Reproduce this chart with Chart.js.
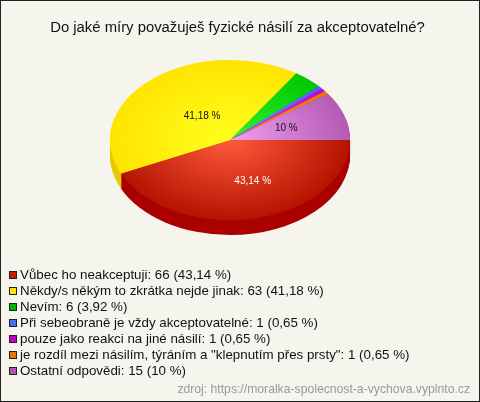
<!DOCTYPE html>
<html>
<head>
<meta charset="utf-8">
<script src="https://cdn.jsdelivr.net/npm/chart.js@4"></script>
<style>
	html, body { margin: 0; padding: 0; }
	#frame { position: relative; width: 480px; height: 402px; box-sizing: border-box; border: 1px solid #222; background: #f5f5ee; overflow: hidden; font-family: "Liberation Sans", Arial, sans-serif; }
	#myChart { position: absolute; left: -1px; top: -1px; }
	#legend { position: absolute; left: 8px; top: 266px; font-size: 13.33px; line-height: 16px; color: #111; white-space: nowrap; }
	#legend i { display: inline-block; border: 1px solid #222; margin-right: 3px; vertical-align: 0; width: 6px; height: 6px; }
	#source { position: absolute; right: 9px; top: 381px; font-size: 12.2px; color: #999; }
</style>
</head>
<body>
<div id="frame">
	<canvas id="myChart" width="480" height="402"></canvas>
	<div id="legend"></div>
	<div id="source">zdroj: https://moralka-spolecnost-a-vychova.vyplnto.cz</div>
</div>
<script>
// Chart data
var chartTitle = "Do jaké míry považuješ fyzické násilí za akceptovatelné?";
var categories = ["Vůbec ho neakceptuji", "Někdy/s někým to zkrátka nejde jinak", "Nevím", "Při sebeobraně je vždy akceptovatelné", "pouze jako reakci na jiné násilí", "je rozdíl mezi násilím, týráním a \"klepnutím přes prsty\"", "Ostatní odpovědi"];
var counts = [66, 63, 6, 1, 1, 1, 15];
var percents = ["43,14", "41,18", "3,92", "0,65", "0,65", "0,65", "10"];

// Colours of each slice
var innerColors = ["#ff5a3c", "#ffff1e", "#32f032", "#7896ff", "#f03cf0", "#ff9628", "#f0a0f0"];
var outerColors = ["#b41400", "#ffe400", "#00c800", "#4664f0", "#c800c8", "#e67800", "#b45ab4"];
var sideColors = ["#aa0000", "#e6c800", "#009600", "#3246b4", "#960096", "#b45a00", "#8c468c"];
var legendColors = ["#c81e00", "#ffe600", "#00b400", "#4a6cf0", "#c000c8", "#e67800", "#b455b0"];

// Which slices carry a label inside the pie, with how far out it sits
var labelRadius = [64, 46, 0, 0, 0, 0, 56];
var labelShiftX = [9, 2, 0, 0, 0, 0, 3];
var labelColors = ["#ffffff", "#111111", "", "", "", "", "#111111"];

// The pie is flattened and moved with the canvas transform
var pieCenterX = 230;
var pieCenterY = 140;
var squash = 2 / 3;
var pieDepth = 15;

function sliceGradient(context) {
	var area = context.chart.chartArea;
	if (!area) {
		return outerColors[context.dataIndex];
	}
	var x = (area.left + area.right) / 2;
	var y = (area.top + area.bottom) / 2;
	var gradient = context.chart.ctx.createRadialGradient(x, y, 0, x, y, 120);
	gradient.addColorStop(0, innerColors[context.dataIndex]);
	gradient.addColorStop(1, outerColors[context.dataIndex]);
	return gradient;
}

function flatten(ctx, arc, offsetY) {
	ctx.translate(pieCenterX, pieCenterY + offsetY);
	ctx.scale(1, squash);
	ctx.translate(-arc.x, -arc.y);
}

var flatPie = {
	id: "flatPie",
	beforeDatasetsDraw: function(chart) {
		var ctx = chart.ctx;
		var arcs = chart.getDatasetMeta(0).data;

		// 1. The side of the pie, stacked from the bottom up
		for (var depth = pieDepth; depth > 0; depth--) {
			arcs.forEach(function(arc, i) {
				ctx.save();
				flatten(ctx, arc, depth);
				ctx.beginPath();
				ctx.moveTo(arc.x, arc.y);
				ctx.arc(arc.x, arc.y, arc.outerRadius, arc.startAngle, arc.endAngle);
				ctx.closePath();
				ctx.fillStyle = sideColors[i];
				ctx.fill();
				ctx.restore();
			});
		}

		// 2. The top surface is then drawn by the library inside this transform
		ctx.save();
		flatten(ctx, arcs[0], 0);
	},
	afterDatasetsDraw: function(chart) {
		var ctx = chart.ctx;
		ctx.restore();

		// 3. Percent labels on the big slices
		ctx.font = "10px 'Liberation Sans', Arial, sans-serif";
		ctx.textAlign = "center";
		ctx.textBaseline = "middle";
		chart.getDatasetMeta(0).data.forEach(function(arc, i) {
			if (!labelRadius[i]) {
				return;
			}
			var mid = (arc.startAngle + arc.endAngle) / 2;
			var x = pieCenterX + Math.cos(mid) * labelRadius[i] + labelShiftX[i];
			var y = pieCenterY + Math.sin(mid) * labelRadius[i] * squash;
			ctx.fillStyle = labelColors[i];
			ctx.fillText(percents[i] + " %", x, y);
		});
	}
};

var myChart = new Chart(document.getElementById("myChart"), {
	type: "pie",
	data: {
		labels: categories,
		datasets: [{
			data: counts,
			backgroundColor: sliceGradient,
			borderWidth: 0
		}]
	},
	options: {
		responsive: false,
		animation: false,
		rotation: 90,
		layout: { padding: { left: 0, right: 5, top: 19, bottom: 125 } },
		plugins: {
			legend: { display: false },
			tooltip: { enabled: false },
			title: {
				display: true,
				text: chartTitle,
				color: "#111111",
				font: { family: "'Liberation Sans', Arial, sans-serif", size: 14.85, weight: "normal" },
				padding: { top: 0, bottom: 0 }
			}
		}
	},
	plugins: [flatPie]
});

// Legend under the chart
var legendBox = document.getElementById("legend");
categories.forEach(function(name, i) {
	var row = document.createElement("div");
	var box = document.createElement("i");
	box.style.background = legendColors[i];
	row.appendChild(box);
	row.appendChild(document.createTextNode(name + ": " + counts[i] + " (" + percents[i] + " %)"));
	legendBox.appendChild(row);
});
</script>
</body>
</html>
